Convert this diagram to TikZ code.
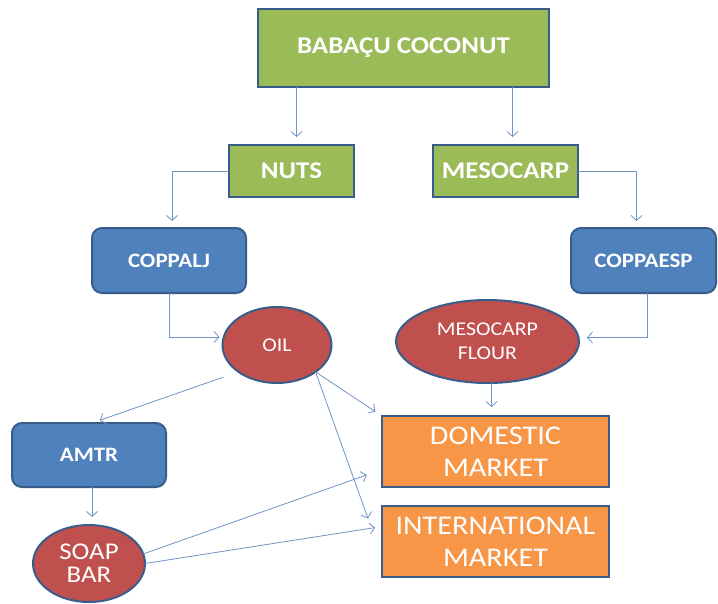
\documentclass[tikz,border=0pt]{standalone}
\usepackage{fontspec}
\setmainfont[FakeStretch=1.12]{Carlito}
\usetikzlibrary{shapes.geometric, arrows.meta, positioning}
\definecolor{mgreen}{HTML}{9BBB59}
\definecolor{mblue}{HTML}{4F81BD}
\definecolor{mred}{HTML}{C0504D}
\definecolor{morange}{HTML}{F79646}
\definecolor{medge}{HTML}{385D8A}
\definecolor{mlink}{HTML}{6F93C4}
\tikzstyle{crop} = [rectangle, draw = medge, line width = 2pt, fill = mgreen, text = white, inner sep = 0pt, outer sep = 0pt, font = \bfseries\fontsize{24}{28}\selectfont]
\tikzstyle{coop} = [rectangle, rounded corners = 10pt, draw = medge, line width = 2pt, fill = mblue, text = white, inner sep = 0pt, outer sep = 0pt, minimum width = 154pt, minimum height = 65pt, font = \bfseries\fontsize{20.5}{24}\selectfont]
\tikzstyle{product} = [ellipse, draw = medge, line width = 2pt, fill = mred, text = white, inner sep = 0pt, outer sep = 0pt, font = \fontsize{19.5}{24}\selectfont]
\tikzstyle{market} = [rectangle, draw = medge, line width = 2pt, fill = morange, text = white, inner sep = 0pt, outer sep = 0pt, minimum width = 227pt, minimum height = 71pt, font = \fontsize{27}{32}\selectfont]
\tikzstyle{link} = [draw = mlink, line width = 0.8pt, -{Straight Barb[length=5pt, width=11pt]}]

\begin{document}
\begin{tikzpicture}[align=center, node distance = 30pt]
  \useasboundingbox (0,0) rectangle (718pt,-603pt);
  \node (coconut) [crop, minimum width = 291pt, minimum height = 78pt] at (403.5pt,-48pt) {BABAÇU COCONUT};
  \node (nuts) [crop, minimum width = 125pt, minimum height = 52pt, below = 58pt of coconut, xshift = -112pt] {NUTS};
  \node (meso) [crop, minimum width = 145pt, minimum height = 52pt, below = 58pt of coconut, xshift = 102pt] {MESOCARP};
  \draw [link, shorten >= 8pt] ([xshift=5pt]nuts.north |- coconut.south) -- ([xshift=5pt]nuts.north);
  \draw [link, shorten >= 8pt] ([xshift=7pt]meso.north |- coconut.south) -- ([xshift=7pt]meso.north);
  \node (coppalj) [coop, below = 31pt of nuts, xshift = -122.5pt] {COPPALJ};
  \node (coppaesp) [coop, minimum width = 145pt, below = 31pt of meso, xshift = 138pt] {COPPAESP};
  \draw [link, shorten >= 7pt] (nuts.west) -| ([xshift=3pt]coppalj.north);
  \draw [link, shorten >= 7pt] (meso.east) -| ([xshift=-7pt]coppaesp.north);
  \node (oil) [product, minimum width = 109pt, minimum height = 76pt, below = 14pt of coppalj, xshift = 108pt] {OIL};
  \node (flour) [product, minimum width = 183pt, minimum height = 83pt, below = 7pt of coppaesp, xshift = -156pt] {MESOCARP\\FLOUR};
  \draw [link, shorten >= 3pt] (coppalj.south) |- ([yshift=8pt]oil.west);
  \draw [link, shorten >= 8pt] ([xshift=4pt]coppaesp.south) |- ([yshift=4pt]flour.east);
  \node (domestic) [market, below = 33pt of flour, xshift = 8pt] {DOMESTIC\\MARKET};
  \node (intl) [market, below = 19pt of domestic] {INTERNATIONAL\\MARKET};
  \draw [link, shorten >= 9pt] ([xshift=4pt]flour.south) -- ([xshift=4pt]flour.south |- domestic.north);
  \node (amtr) [coop, minimum height = 64pt, left = 216pt of domestic, yshift = -3.5pt] {AMTR};
  \node (soap) [product, minimum width = 112pt, minimum height = 77pt, below = 38pt of amtr, font = \fontsize{24}{23}\selectfont] {SOAP\\BAR};
  \draw [link, shorten >= 8pt] ([xshift=3pt]amtr.south) -- ([xshift=3pt]soap.north);
  % oil and soap out to the markets
  \draw [link, shorten <= 16pt, shorten >= 8pt] (oil.south west) -- ([xshift=3pt]amtr.north);
  \draw [link, shorten >= 8pt] (oil.south east) -- (domestic.north west);
  \draw [link] (oil.south east) -- ([shift={(-14pt,23pt)}]intl.west);
  \draw [link, shorten >= 16pt] (soap.10) -- ([yshift=-18pt]domestic.west);
  \draw [link, shorten >= 7pt] (soap.east) -- ([yshift=15pt]intl.west);
\end{tikzpicture}
\end{document}
